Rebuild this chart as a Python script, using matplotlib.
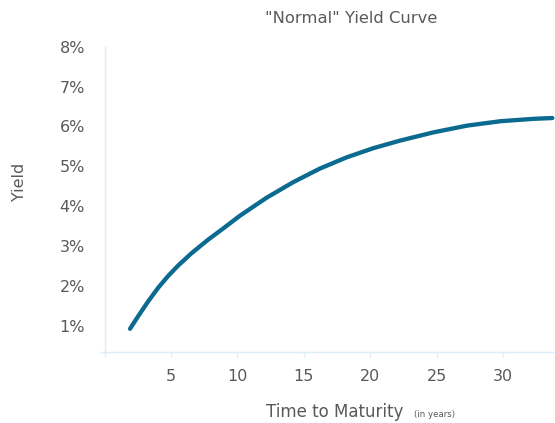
import matplotlib
matplotlib.use("Agg")
import matplotlib.pyplot as plt
from matplotlib.lines import Line2D

plt.rcParams["font.family"] = ["DejaVu Sans"]

# Yield curve samples (maturity in years, yield in %)
years = [1.92, 2.54, 3.29, 4.04, 4.80, 5.55, 6.56, 7.81, 8.94, 10.2, 12.2, 14.2,
         16.2, 18.2, 20.2, 22.2, 24.75, 27.3, 29.8, 32.3, 33.7]
yields = [0.92, 1.24, 1.61, 1.95, 2.25, 2.51, 2.82, 3.16, 3.44, 3.76, 4.21, 4.60,
          4.94, 5.22, 5.45, 5.64, 5.85, 6.02, 6.13, 6.19, 6.21]

x_ticks = [0, 5, 10, 15, 20, 25, 30]
x_tick_labels = ["", "5", "10", "15", "20", "25", "30"]
y_ticks = [1, 2, 3, 4, 5, 6, 7, 8]
y_tick_labels = [f"{v}%" for v in y_ticks]

title = '"Normal" Yield Curve'
x_title = "Time to Maturity"
x_title_note = "(in years)"
y_title = "Yield"

text_color = "#595959"
axis_color = "#dceefa"
line_color = "#0b6a8f"

W, H = 555, 423
fig = plt.figure(figsize=(W / 100, H / 100), dpi=100)
fig.patch.set_facecolor("white")

left, right, bottom, top = 104.5, 555, 352.3, 46.7
ax = fig.add_axes([left / W, 1 - bottom / H, (right - left) / W, (bottom - top) / H])

ax.plot(years, yields, color=line_color, lw=3.1, solid_capstyle="round",
        solid_joinstyle="round", zorder=3)

ax.set_xlim(0, 33.9)
ax.set_ylim(0.33, 8.0)

ax.set_xticks(x_ticks)
ax.set_xticklabels(x_tick_labels)
ax.set_yticks(y_ticks)
ax.set_yticklabels(y_tick_labels)

for side in ("top", "right"):
    ax.spines[side].set_visible(False)
for side in ("left", "bottom"):
    ax.spines[side].set_color(axis_color)
    ax.spines[side].set_linewidth(1.0)

ax.tick_params(axis="x", length=3.8, width=1.0, color=axis_color, pad=8,
               labelsize=11.5, labelcolor=text_color)
ax.tick_params(axis="y", length=0, pad=14, labelsize=11.5, labelcolor=text_color)

# small overhang of the x axis line past the y axis
ax.add_line(Line2D([-0.008, 0], [0, 0], transform=ax.transAxes, color=axis_color,
                   lw=1.0, clip_on=False))

fig.text(351 / W, 1 - 18.5 / H, title, ha="center", va="center",
         fontsize=11.8, color=text_color)
fig.text(20 / W, 1 - 182 / H, y_title, ha="center", va="center", rotation=90,
         fontsize=11.5, color=text_color)
fig.text(403 / W, 1 - 417 / H, x_title, ha="right", va="baseline",
         fontsize=12, color=text_color)
fig.text(414 / W, 1 - 417 / H, x_title_note, ha="left", va="baseline",
         fontsize=6.2, color=text_color)

fig.savefig("out.png", dpi=100, facecolor="white")
